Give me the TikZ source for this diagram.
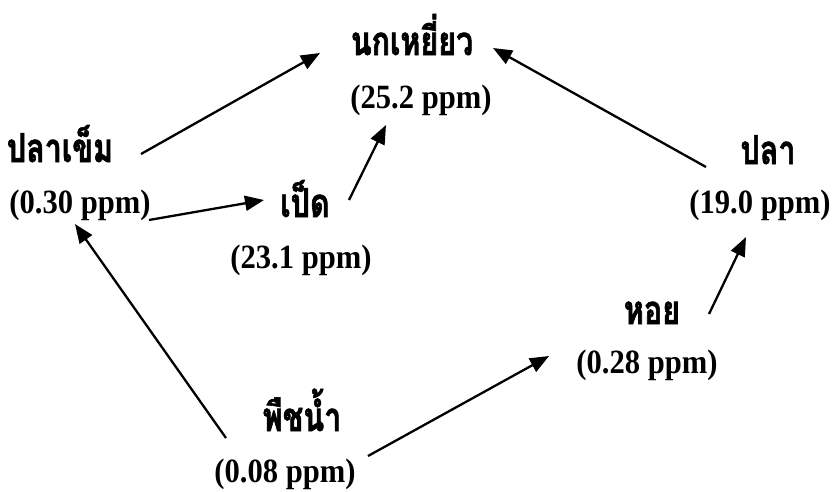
\documentclass[tikz,border=0pt]{standalone}
\usepackage{fontspec}
\usetikzlibrary{arrows.meta}
\newfontfamily\thaifont[Script=Thai,FakeStretch=0.76,FakeBold=1.5]{Loma}
\newfontfamily\numfont[FakeStretch=0.9]{Liberation Serif}
\begin{document}
\begin{tikzpicture}[x=1pt,y=-1pt,
  thai/.style={inner sep=0pt,anchor=base,font=\thaifont\bfseries\fontsize{40}{42}\selectfont},
  ppm/.style={inner sep=0pt,anchor=base,font=\numfont\bfseries\fontsize{34}{38}\selectfont},
  feed/.style={line width=2.3pt,-{Triangle[length=19pt,width=15pt]}}]
\useasboundingbox (0,0) rectangle (835,491);
% species and their concentrations (base lines)
\node[thai] (hawkT)   at (412,55)  {นกเหยี่ยว};
\node[ppm]  (hawkV)   at (421,108) {(25.2 ppm)};
\node[thai] (needleT) at (60,162)  {ปลาเข็ม};
\node[ppm]  (needleV) at (80,213)  {(0.30 ppm)};
\node[thai] (duckT)   at (305,217) {เป็ด};
\node[ppm]  (duckV)   at (301,268) {(23.1 ppm)};
\node[thai] (fishT)   at (768,164) {ปลา};
\node[ppm]  (fishV)   at (760,213) {(19.0 ppm)};
\node[thai] (shellT)  at (652,324) {หอย};
\node[ppm]  (shellV)  at (647,373) {(0.28 ppm)};
\node[thai] (plantT)  at (302,431) {พืชน้ำ};
\node[ppm]  (plantV)  at (285,482) {(0.08 ppm)};
% feeding links
\draw[feed] ([shift={(81,-8)}]needleT.base) -- ([shift={(-92,-2)}]hawkT.base);
\draw[feed] ([shift={(-62,3)}]fishT.base) -- ([shift={(81,-7)}]hawkT.base);
\draw[feed] ([shift={(69,7)}]needleV.base) -- ([shift={(-41,-17)}]duckT.base);
\draw[feed] ([shift={(44,-17)}]duckT.base) -- ([shift={(-35,17)}]hawkV.base);
\draw[feed] ([shift={(-76,7)}]plantT.base) -- ([shift={(-5,11)}]needleV.base);
\draw[feed] ([shift={(66,25)}]plantT.base) -- ([shift={(-98,-17)}]shellV.base);
\draw[feed] ([shift={(57,-10)}]shellT.base) -- ([shift={(-14,24)}]fishV.base);
\end{tikzpicture}
\end{document}
